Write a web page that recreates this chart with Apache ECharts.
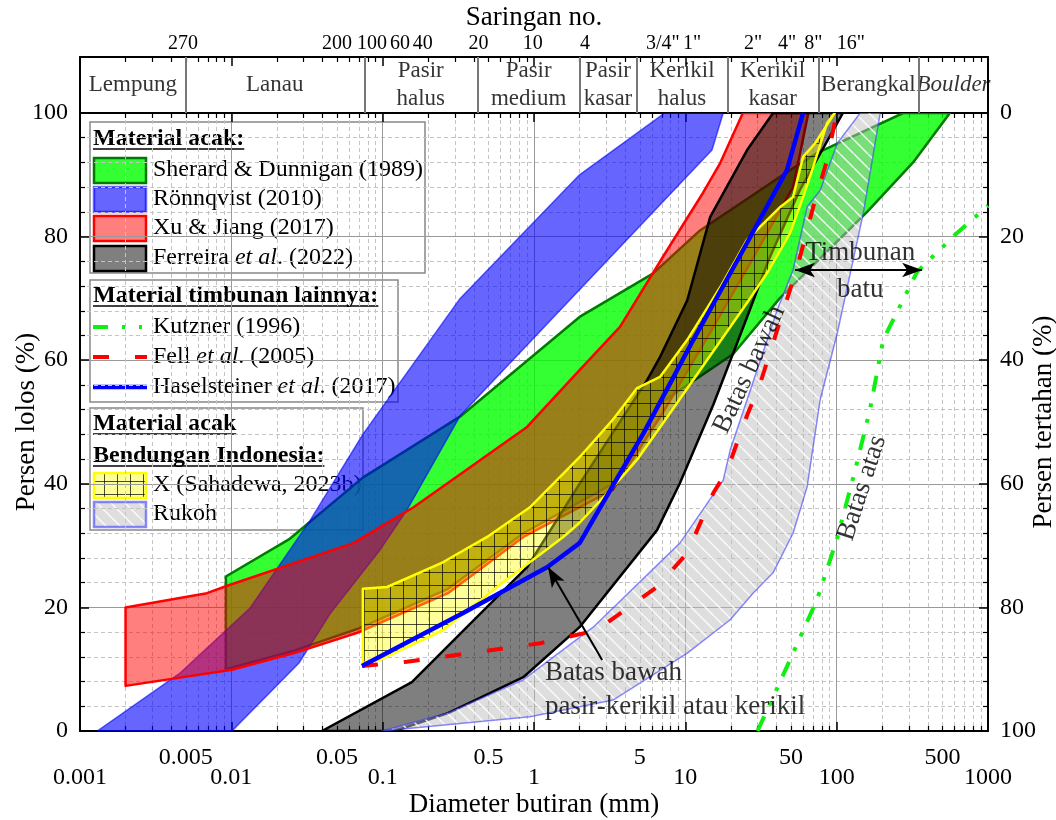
<!DOCTYPE html>
<html lang="id">
<head>
<meta charset="UTF-8">
<title>Gradasi butiran</title>
<style>
  html, body { margin: 0; padding: 0; background: #fff; }
  #main { width: 1056px; height: 820px; }
</style>
</head>
<body>
<div id="main"></div>
<script src="https://cdn.jsdelivr.net/npm/echarts@6.0.0/dist/echarts.min.js"></script>
<script>
// semua titik: [diameter butiran (mm), persen lolos (%)]
var sherardUpper = [[0.0092, 25], [0.024, 31], [0.074, 41], [0.33, 51], [2.0, 67], [6.1, 74], [12.5, 81], [51, 91], [74, 93.5], [275, 100]];
var sherardLower = [[0.0092, 10], [0.026, 13], [0.068, 16.5], [0.27, 23], [0.85, 32], [3.3, 40], [6.8, 53], [20.7, 61], [42, 70], [159, 84], [320, 92], [560, 100]];

var ronnUpper = [[0.0013, 0], [0.0046, 9.4], [0.0133, 19.9], [0.033, 34], [0.074, 48], [0.325, 70], [2.0, 90], [7.3, 100]];
var ronnLower = [[0.0101, 0], [0.028, 11], [0.045, 19], [0.096, 29.3], [0.145, 35.8], [0.325, 51], [15, 94], [17.8, 100]];

var xuUpper = [[0.002, 20], [0.0069, 22.3], [0.0094, 23.5], [0.064, 30.4], [0.16, 36.2], [0.9, 49.2], [2.0, 58.4], [3.7, 65.4], [7.1, 76.7], [13.1, 87.1], [17, 91.9], [24, 100]];
var xuLower = [[0.002, 7.3], [0.0101, 9.9], [0.026, 12.6], [0.068, 15.9], [0.27, 22.3], [0.85, 31.4], [3.3, 39], [7.1, 51.5], [14.6, 64.5], [26.8, 75.7], [51.5, 88], [65, 100]];

var ferUpper = [[0.0397, 0], [0.156, 7.9], [0.36, 16.8], [0.9, 26.5], [2.0, 40], [5.6, 56.8], [6.8, 60.5], [10.3, 69.7], [14.6, 83.2], [25.6, 94], [38, 100]];
var ferLower = [[0.12, 0], [0.27, 2.9], [0.85, 8.7], [2.0, 16.8], [6.5, 32.5], [9.2, 40.1], [15.3, 52.8], [25.6, 67], [35.5, 76.2], [57, 87.5], [110, 100]];

var rukohLeft = [[0.099, 0], [0.27, 2.9], [0.85, 8.3], [2.46, 16.8], [9.2, 30.4], [17.8, 40.6], [19.8, 45.5], [25.6, 53.6], [40.4, 68.1], [51.5, 74.6], [63.8, 84.8], [77.8, 87.5], [101, 95.1], [143, 100]];
var rukohRight = [[0.099, 0], [0.94, 2.3], [3.33, 5], [10.3, 12.6], [19.8, 18], [28, 22.3], [38, 25.6], [51.5, 32], [63.8, 39.5], [77.8, 53.6], [101, 64.4], [150, 83.8], [194, 100]];

var xUpper = [[0.074, 23], [0.107, 23.3], [0.25, 27.3], [0.49, 31.4], [0.94, 36.2], [2.0, 44.3], [3.3, 50.3], [4.8, 55.5], [6.8, 57.3], [10.3, 63.3], [17, 71.8], [25.6, 79.5], [42.4, 84.8], [51.5, 86.4], [60, 92.9], [72, 95.1], [97, 100]];
var xLower = [[0.074, 11], [0.096, 11.5], [0.25, 16.3], [0.57, 23.3], [1.56, 31.4], [2.0, 33.7], [3.2, 39], [4.8, 43.9], [7.6, 50.8], [25.6, 69.3], [34.7, 74.1], [49.3, 80.6], [60, 86.4], [70, 91.3], [86.5, 98.4], [97, 100]];

var kutzner = [[30, 0], [42, 7.8], [74, 21.2], [100, 30.9], [129, 41.1], [166, 52], [203, 63.3], [340, 74.3], [625, 80.6], [1000, 85]];
var fell = [[0.073, 10.5], [0.145, 11.2], [1.1, 14.2], [2.6, 16.3], [6.5, 23.3], [10.3, 28.8], [15.3, 38.5], [18.9, 42.2], [25.6, 51.1], [31, 56], [55, 75.1], [70, 84.8], [86.5, 92.4], [100, 100]];
var haselsteiner = [[0.073, 10.5], [0.34, 19.1], [1.22, 26.5], [2.0, 30.4], [3.2, 39], [5.3, 48.2], [11.3, 63.3], [25.6, 79], [47, 90.8], [60, 100]];

// klasifikasi dan saringan
var classBounds = [0.001, 0.005, 0.075, 0.425, 2, 4.75, 19, 75, 350, 1000];
var classNames = ['Lempung', 'Lanau', 'Pasir\nhalus', 'Pasir\nmedium', 'Pasir\nkasar', 'Kerikil\nhalus', 'Kerikil\nkasar', 'Berangkal', 'Boulder'];
var sieveNames = ['270', '200', '100', '60', '40', '20', '10', '4', '3/4"', '1"', '2"', '4"', '8"', '16"'];
var sievePos = [0.0048, 0.050, 0.085, 0.13, 0.184, 0.43, 0.98, 2.17, 7.1, 11.1, 28, 47, 70, 124];
var halfTicks = [0.005, 0.05, 0.5, 5, 50, 500];

var FONT = 'Liberation Serif';
var lg = Math.log10;
function toXY(arr) { return arr.map(function (p) { return [lg(p[0]), p[1]]; }); }
function fmtMM(v) { return String(Number(Math.pow(10, v).toPrecision(3))); }

// posisi tick minor 2..9 tiap dekade
var minorVals = [];
for (var d = -3; d < 3; d++) for (var k = 2; k <= 9; k++) minorVals.push(d + lg(k));
var sieveVals = sievePos.map(lg);
function sieveFmt(v) {
  for (var i = 0; i < sieveVals.length; i++) if (Math.abs(sieveVals[i] - v) < 1e-6) return sieveNames[i];
  return '';
}

// pola arsir
function makePattern(size, bg, draw) {
  var c = document.createElement('canvas');
  c.width = size; c.height = size;
  var g = c.getContext('2d');
  g.fillStyle = bg; g.fillRect(0, 0, size, size);
  draw(g, size);
  return { image: c, repeat: 'repeat' };
}
var gridPat = makePattern(13, 'rgba(255,255,0,0.4)', function (g, s) {
  g.strokeStyle = 'rgba(0,0,0,0.7)'; g.lineWidth = 1;
  g.beginPath(); g.moveTo(0.5, 0); g.lineTo(0.5, s); g.moveTo(0, 0.5); g.lineTo(s, 0.5); g.stroke();
});
var stripePat = makePattern(14, 'rgba(190,190,190,0.5)', function (g, s) {
  g.strokeStyle = 'rgba(255,255,255,0.85)'; g.lineWidth = 1.5;
  g.beginPath();
  for (var i = -1; i <= 1; i++) { g.moveTo(i * s, 0); g.lineTo(i * s + s, s); }
  g.stroke();
});

var C = {
  green: { fill: 'rgba(0,255,0,0.8)', stroke: '#007a00', w: 2.5 },
  blue: { fill: 'rgba(0,0,255,0.6)', stroke: 'rgba(0,0,255,0.6)', w: 1.5 },
  red: { fill: 'rgba(255,0,0,0.5)', stroke: '#ff0000', w: 2.5 },
  gray: { fill: 'rgba(0,0,0,0.5)', stroke: '#000', w: 2.5 },
  rukoh: { fill: stripePat, stroke: 'rgba(60,60,255,0.6)', w: 1.5 },
  x: { fill: gridPat, stroke: '#ffff00', w: 2.5 }
};

function band(name, upper, lower, st) {
  var pts = toXY(upper.concat(lower.slice().reverse()));
  return {
    name: name, type: 'custom', xAxisIndex: 0, yAxisIndex: 0, clip: true, silent: true,
    data: pts,
    renderItem: function (params, api) {
      if (params.dataIndex !== 0) return null;
      return {
        type: 'polygon',
        shape: { points: pts.map(function (p) { return api.coord(p); }) },
        style: { fill: st.fill, stroke: st.stroke, lineWidth: st.w, lineJoin: 'round' }
      };
    }
  };
}

function line(name, data, color, width, dash) {
  return {
    name: name, type: 'line', xAxisIndex: 0, yAxisIndex: 0, data: toXY(data),
    symbol: 'none', silent: true, clip: true,
    lineStyle: { color: color, width: width, type: dash || 'solid' }
  };
}

var labelBase = { fontFamily: FONT, color: '#000' };
var nameStyle = { fontSize: 27, fontFamily: FONT, color: '#000' };
function axLine() { return { show: true, onZero: false, lineStyle: { color: '#000', width: 2 } }; }

var mctx = document.createElement('canvas').getContext('2d');
function textW(t, font) { mctx.font = font; return mctx.measureText(t).width; }

function legendGraphic() {
  var els = [];
  var f = '24px "' + FONT + '"';
  var fb = 'bold 24px "' + FONT + '"';
  function box(x, y, w, h) {
    els.push({ type: 'rect', shape: { x: x, y: y, width: w, height: h }, style: { fill: 'rgba(255,255,255,0.5)', stroke: '#888', lineWidth: 1.5 } });
  }
  function header(t, y) {
    els.push({ type: 'text', x: 93, y: y, style: { text: t, font: fb, fill: '#000', align: 'left', verticalAlign: 'middle' } });
    els.push({ type: 'line', shape: { x1: 93, y1: y + 10, x2: 93 + textW(t, fb), y2: y + 10 }, style: { stroke: '#000', lineWidth: 1.5 } });
  }
  function swatch(y, st) {
    els.push({ type: 'rect', shape: { x: 94, y: y - 12, width: 52, height: 25 }, style: { fill: st.fill, stroke: st.stroke, lineWidth: 2.5 } });
  }
  function sample(y, color, width, dash) {
    els.push({ type: 'line', shape: { x1: 93, y1: y, x2: 147, y2: y }, style: { stroke: color, lineWidth: width, lineDash: dash || null } });
  }
  function label(t, y) {
    els.push({ type: 'text', x: 153, y: y, style: { text: t, font: f, fill: '#000', align: 'left', verticalAlign: 'middle', rich: { i: { font: 'italic 24px "' + FONT + '"', fill: '#000' } } } });
  }
  box(90, 122, 335, 151);
  header('Material acak:', 139);
  swatch(170, C.green); label('Sherard & Dunnigan (1989)', 170);
  swatch(199, C.blue); label('Rönnqvist (2010)', 199);
  swatch(228, C.red); label('Xu & Jiang (2017)', 228);
  swatch(258, C.gray); label('Ferreira {i|et al}. (2022)', 258);

  box(90, 280, 308, 122);
  header('Material timbunan lainnya:', 296);
  sample(327, '#11ee11', 4, [15, 14, 3, 14, 3, 14]); label('Kutzner (1996)', 327);
  sample(357, '#ff0000', 4, [16, 26]); label('Fell {i|et al}. (2005)', 357);
  sample(387, '#0000ff', 4.5); label('Haselsteiner {i|et al}. (2017)', 387);

  box(90, 408, 273, 122);
  header('Material acak', 424);
  header('Bendungan Indonesia:', 456);
  swatch(485, C.x); label('X (Sahadewa, 2023b)', 485);
  swatch(514, C.rukoh); label('Rukoh', 514);
  return [{ type: 'group', z: 100, silent: true, children: els }];
}

var chart = echarts.init(document.getElementById('main'));
var option = {
  animation: false,
  backgroundColor: '#fff',
  textStyle: { fontFamily: FONT, color: '#000' },
  grid: [
    { left: 80, right: 68, top: 113, bottom: 89, outerBoundsMode: 'none' },
    { left: 80, right: 68, top: 57, height: 56, outerBoundsMode: 'none' }
  ],
  xAxis: [
    { // bawah, dekade
      type: 'value', gridIndex: 0, position: 'bottom', min: -3, max: 3, interval: 1,
      axisLine: axLine(),
      axisTick: { show: true, inside: true, length: 9, lineStyle: { color: '#000', width: 1.5 } },
      axisLabel: Object.assign({ margin: 35, fontSize: 24, formatter: fmtMM, hideOverlap: false }, labelBase),
      splitLine: { show: true, lineStyle: { color: '#999', width: 1 } },
      name: 'Diameter butiran (mm)', nameLocation: 'middle', nameGap: 60, nameMoveOverlap: false,
      nameTextStyle: nameStyle
    },
    { // bawah, minor
      type: 'value', gridIndex: 0, position: 'bottom', min: -3, max: 3, interval: 1,
      axisLine: { show: false, onZero: false },
      axisTick: { show: true, inside: true, length: 5, customValues: minorVals, lineStyle: { color: '#000', width: 1.2 } },
      axisLabel: Object.assign({ margin: 15, fontSize: 24, customValues: halfTicks.map(lg), formatter: fmtMM, hideOverlap: false }, labelBase),
      splitLine: { show: true, lineStyle: { color: '#c4c4c4', width: 1, type: [4, 3] } }
    },
    { // atas, dekade
      type: 'value', gridIndex: 0, position: 'top', min: -3, max: 3, interval: 1,
      axisLine: axLine(),
      axisTick: { show: true, inside: true, length: 9, lineStyle: { color: '#000', width: 1.5 } },
      axisLabel: { show: false }, splitLine: { show: false }
    },
    { // atas, minor
      type: 'value', gridIndex: 0, position: 'top', min: -3, max: 3, interval: 1,
      axisLine: { show: false, onZero: false },
      axisTick: { show: true, inside: true, length: 5, customValues: minorVals, lineStyle: { color: '#000', width: 1.2 } },
      axisLabel: { show: false }, splitLine: { show: false }
    },
    { // pita klasifikasi, saringan
      type: 'value', gridIndex: 1, position: 'top', min: -3, max: 3, interval: 1,
      axisLine: axLine(),
      axisTick: { show: true, inside: true, length: 9, lineStyle: { color: '#000', width: 1.5 } },
      axisLabel: Object.assign({ margin: 3, fontSize: 20, customValues: sieveVals, formatter: sieveFmt, hideOverlap: false }, labelBase),
      splitLine: { show: false },
      name: 'Saringan no.', nameLocation: 'middle', nameGap: 26, nameMoveOverlap: false,
      nameTextStyle: nameStyle
    },
    {
      type: 'value', gridIndex: 1, position: 'top', min: -3, max: 3, interval: 1,
      axisLine: { show: false, onZero: false },
      axisTick: { show: true, inside: true, length: 5, customValues: minorVals, lineStyle: { color: '#000', width: 1.2 } },
      axisLabel: { show: false }, splitLine: { show: false }
    }
  ],
  yAxis: [
    {
      type: 'value', gridIndex: 0, position: 'left', min: 0, max: 100, interval: 20,
      axisLine: axLine(),
      axisTick: { show: true, inside: true, length: 9, lineStyle: { color: '#000', width: 1.5 } },
      minorTick: { show: true, splitNumber: 5, length: 5, lineStyle: { color: '#000', width: 1.2 } },
      axisLabel: Object.assign({ margin: 12, fontSize: 24 }, labelBase),
      splitLine: { show: true, lineStyle: { color: '#999', width: 1 } },
      minorSplitLine: { show: true, lineStyle: { color: '#c4c4c4', width: 1, type: [4, 3] } },
      name: 'Persen lolos (%)', nameLocation: 'middle', nameGap: 40, nameRotate: 90, nameMoveOverlap: false,
      nameTextStyle: nameStyle
    },
    {
      type: 'value', gridIndex: 0, position: 'right', min: 0, max: 100, interval: 20, inverse: true,
      axisLine: axLine(),
      axisTick: { show: true, inside: true, length: 9, lineStyle: { color: '#000', width: 1.5 } },
      minorTick: { show: true, splitNumber: 5, length: 5, lineStyle: { color: '#000', width: 1.2 } },
      axisLabel: Object.assign({ margin: 12, fontSize: 24 }, labelBase),
      splitLine: { show: false },
      name: 'Persen tertahan (%)', nameLocation: 'middle', nameGap: 42, nameRotate: 90, nameMoveOverlap: false,
      nameTextStyle: nameStyle
    },
    {
      type: 'value', gridIndex: 1, position: 'left', min: 0, max: 1,
      axisLine: axLine(), axisTick: { show: false }, axisLabel: { show: false }, splitLine: { show: false }
    },
    {
      type: 'value', gridIndex: 1, position: 'right', min: 0, max: 1,
      axisLine: axLine(), axisTick: { show: false }, axisLabel: { show: false }, splitLine: { show: false }
    }
  ],
  series: [
    band('Sherard & Dunnigan (1989)', sherardUpper, sherardLower, C.green),
    band('Rönnqvist (2010)', ronnUpper, ronnLower, C.blue),
    band('Xu & Jiang (2017)', xuUpper, xuLower, C.red),
    band('Ferreira et al. (2022)', ferUpper, ferLower, C.gray),
    band('Rukoh', rukohLeft, rukohRight, C.rukoh),
    band('X (Sahadewa, 2023b)', xUpper, xLower, C.x),
    line('Kutzner (1996)', kutzner, '#11ee11', 4, [16, 12, 4, 12, 4, 12]),
    line('Fell et al. (2005)', fell, '#ff0000', 4, [16, 26]),
    line('Haselsteiner et al. (2017)', haselsteiner, '#0000ff', 4.5),
    {
      name: 'anotasi', type: 'scatter', xAxisIndex: 0, yAxisIndex: 0, symbolSize: 0, silent: true, z: 20,
      label: { show: true, formatter: '{b}', fontSize: 27, fontFamily: FONT, color: '#000', position: 'inside' },
      data: [
        { name: 'Timbunan', value: [lg(143), 77.3] },
        { name: 'batu', value: [lg(143), 71.4] },
        { name: 'Batas bawah', value: [lg(26.5), 58.5], label: { rotate: 65 } },
        { name: 'Batas atas', value: [lg(147), 39.3], label: { rotate: 72 } },
        { name: 'Batas bawah', value: [lg(1.18), 9.4], label: { position: 'right', distance: 0 } },
        { name: 'pasir-kerikil atau kerikil', value: [lg(1.18), 3.9], label: { position: 'right', distance: 0 } }
      ],
      markLine: {
        silent: true, symbol: ['arrow', 'arrow'], symbolSize: [11, 20], label: { show: false },
        lineStyle: { color: '#000', width: 2, type: 'solid' },
        data: [
          [{ coord: [lg(53), 74.6] }, { coord: [lg(367), 74.6] }],
          [{ coord: [lg(2.82), 11.5], symbol: 'none' }, { coord: [lg(1.24), 26.5], symbol: 'arrow' }]
        ]
      }
    },
    {
      name: 'klasifikasi', type: 'scatter', xAxisIndex: 4, yAxisIndex: 2, symbolSize: 0, silent: true,
      label: { show: true, formatter: '{b}', position: 'inside', fontSize: 23, lineHeight: 28, fontFamily: FONT, color: '#000' },
      data: classNames.map(function (n, i) {
        var item = { name: n, value: [(lg(classBounds[i]) + lg(classBounds[i + 1])) / 2, 0.5] };
        if (n === 'Boulder') item.label = { fontStyle: 'italic' };
        return item;
      }),
      markLine: {
        silent: true, symbol: ['none', 'none'], label: { show: false },
        lineStyle: { color: '#777', width: 2, type: 'solid' },
        data: classBounds.slice(1, -1).map(function (b) { return { xAxis: lg(b) }; })
      }
    }
  ],
  graphic: legendGraphic()
};
chart.setOption(option);
</script>
</body>
</html>
